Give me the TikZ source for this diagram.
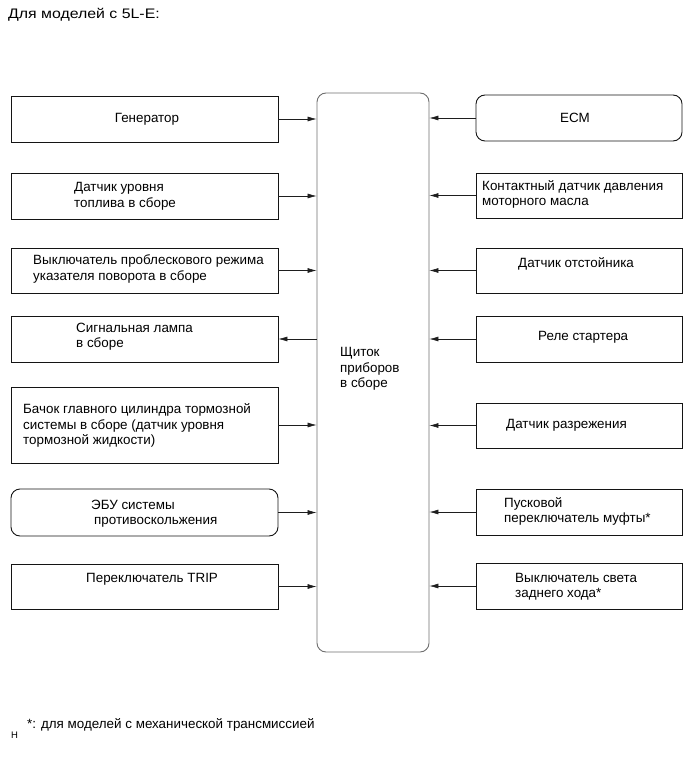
\documentclass[tikz,border=0pt]{standalone}
\usepackage{fontspec}
\setmainfont{Liberation Sans}
\newfontfamily\titlefont[FakeStretch=1.15]{Liberation Sans}
\usetikzlibrary{positioning, arrows.meta}
\definecolor{boxBd}   {RGB}{ 20, 20, 20}
\definecolor{panelBd} {RGB}{110,110,110}
\definecolor{arrowBk} {RGB}{ 30, 30, 30}
\tikzset{
  %% plain part box
  part/.style={
    rectangle, draw=boxBd, line width=0.9pt,
    minimum height=46pt, inner sep=0pt
  },
  partL/.style={part, minimum width=267pt},
  partR/.style={part, minimum width=206pt},
  %% rounded (ECU) box
  ecu/.style={rounded corners=9pt},
  %% combination meter
  panel/.style={
    rectangle, rounded corners=9pt,
    draw=panelBd, line width=0.9pt,
    minimum width=112pt, minimum height=559pt, inner sep=0pt
  },
  txt/.style={
    inner sep=0pt, align=left, anchor=west, yshift=-2.5pt,
    font=\fontsize{13.4}{15.5}\selectfont
  },
  %% signal arrow
  arr/.style={
    -{Latex[length=9pt,width=5pt]},
    line width=0.6pt, color=arrowBk
  }
}
\begin{document}
\begin{tikzpicture}[x=1pt, y=-1pt]
\useasboundingbox (0,0) rectangle (691,759);

\node[txt, font=\titlefont\fontsize{13.8}{15}\selectfont, anchor=base west, yshift=0pt] (title) at (8,16.5)
  {Для моделей с 5L-E:};

%% ═══════════════════════════════════════════
%%  COMBINATION METER (centre)
%% ═══════════════════════════════════════════
\node[panel] (meter) at (373,372.5) {};
\node[txt] (meterT) at (340,366.5) {Щиток\\приборов\\в сборе};

%% ═══════════════════════════════════════════
%%  LEFT COLUMN
%% ═══════════════════════════════════════════
\node[partL] (gen) at (144.5,119) {};
\node[txt, anchor=center] (genT) at (147,117) {Генератор};

\node[partL] (fuel) at (144.5,196) {};
\node[txt] (fuelT) at (74,194) {Датчик уровня\\топлива в сборе};

\node[partL, minimum height=45pt] (flash) at (144.5,270.5) {};
\node[txt] (flashT) at (33,266.5) {Выключатель проблескового режима\\указателя поворота в сборе};

\node[partL] (lamp) at (144.5,339) {};
\node[txt] (lampT) at (76,334) {Сигнальная лампа\\в сборе};

\node[partL, minimum height=76pt] (brake) at (144.5,425) {};
\node[txt] (brakeT) at (23,423) {Бачок главного цилиндра тормозной\\системы в сборе (датчик уровня\\тормозной жидкости)};

\node[partL, ecu, minimum height=47pt] (abs) at (144.5,512.5) {};
\node[txt] (absT) at (91,511) {ЭБУ системы\\\hspace*{3pt}противоскольжения};

\node[partL, minimum height=45pt] (trip) at (144.5,586.5) {};
\node[txt] (tripT) at (86,577) {Переключатель TRIP};

%% ═══════════════════════════════════════════
%%  RIGHT COLUMN
%% ═══════════════════════════════════════════
\node[partR, ecu] (ecm) at (579,118) {};
\node[txt, anchor=center] (ecmT) at (575,115) {ECM};

\node[partR, minimum height=45pt] (oil) at (579,195.5) {};
\node[txt] (oilT) at (482,192) {Контактный датчик давления\\моторного масла};

\node[partR, minimum height=45pt] (sump) at (579,270.5) {};
\node[txt] (sumpT) at (518,261) {Датчик отстойника};

\node[partR] (starter) at (579,339) {};
\node[txt] (starterT) at (538,335) {Реле стартера};

\node[partR, minimum height=45pt] (vac) at (579,425.5) {};
\node[txt] (vacT) at (506,423) {Датчик разрежения};

\node[partR] (clutch) at (579,512) {};
\node[txt] (clutchT) at (504,509) {Пусковой\\переключатель муфты*};

\node[partR] (reverse) at (579,586) {};
\node[txt] (reverseT) at (515,584) {Выключатель света\\заднего хода*};

%% ═══════════════════════════════════════════
%%  CONNECTIONS
%% ═══════════════════════════════════════════
\foreach \p in {gen, fuel, flash, brake, abs, trip}
  \draw[arr] (\p.east) -- (\p.east -| meter.west);
\draw[arr] (lamp.east -| meter.west) -- (lamp.east);

\foreach \p in {ecm, oil, sump, starter, vac, clutch, reverse}
  \draw[arr] (\p.west) -- (\p.west -| meter.east);

%% footnote
\node[txt] (note) at (27,722) {*: для моделей с механической трансмиссией};
\node[txt, font=\fontsize{9.5}{10}\selectfont] (noteH) at (11,733) {Н};

\end{tikzpicture}
\end{document}
